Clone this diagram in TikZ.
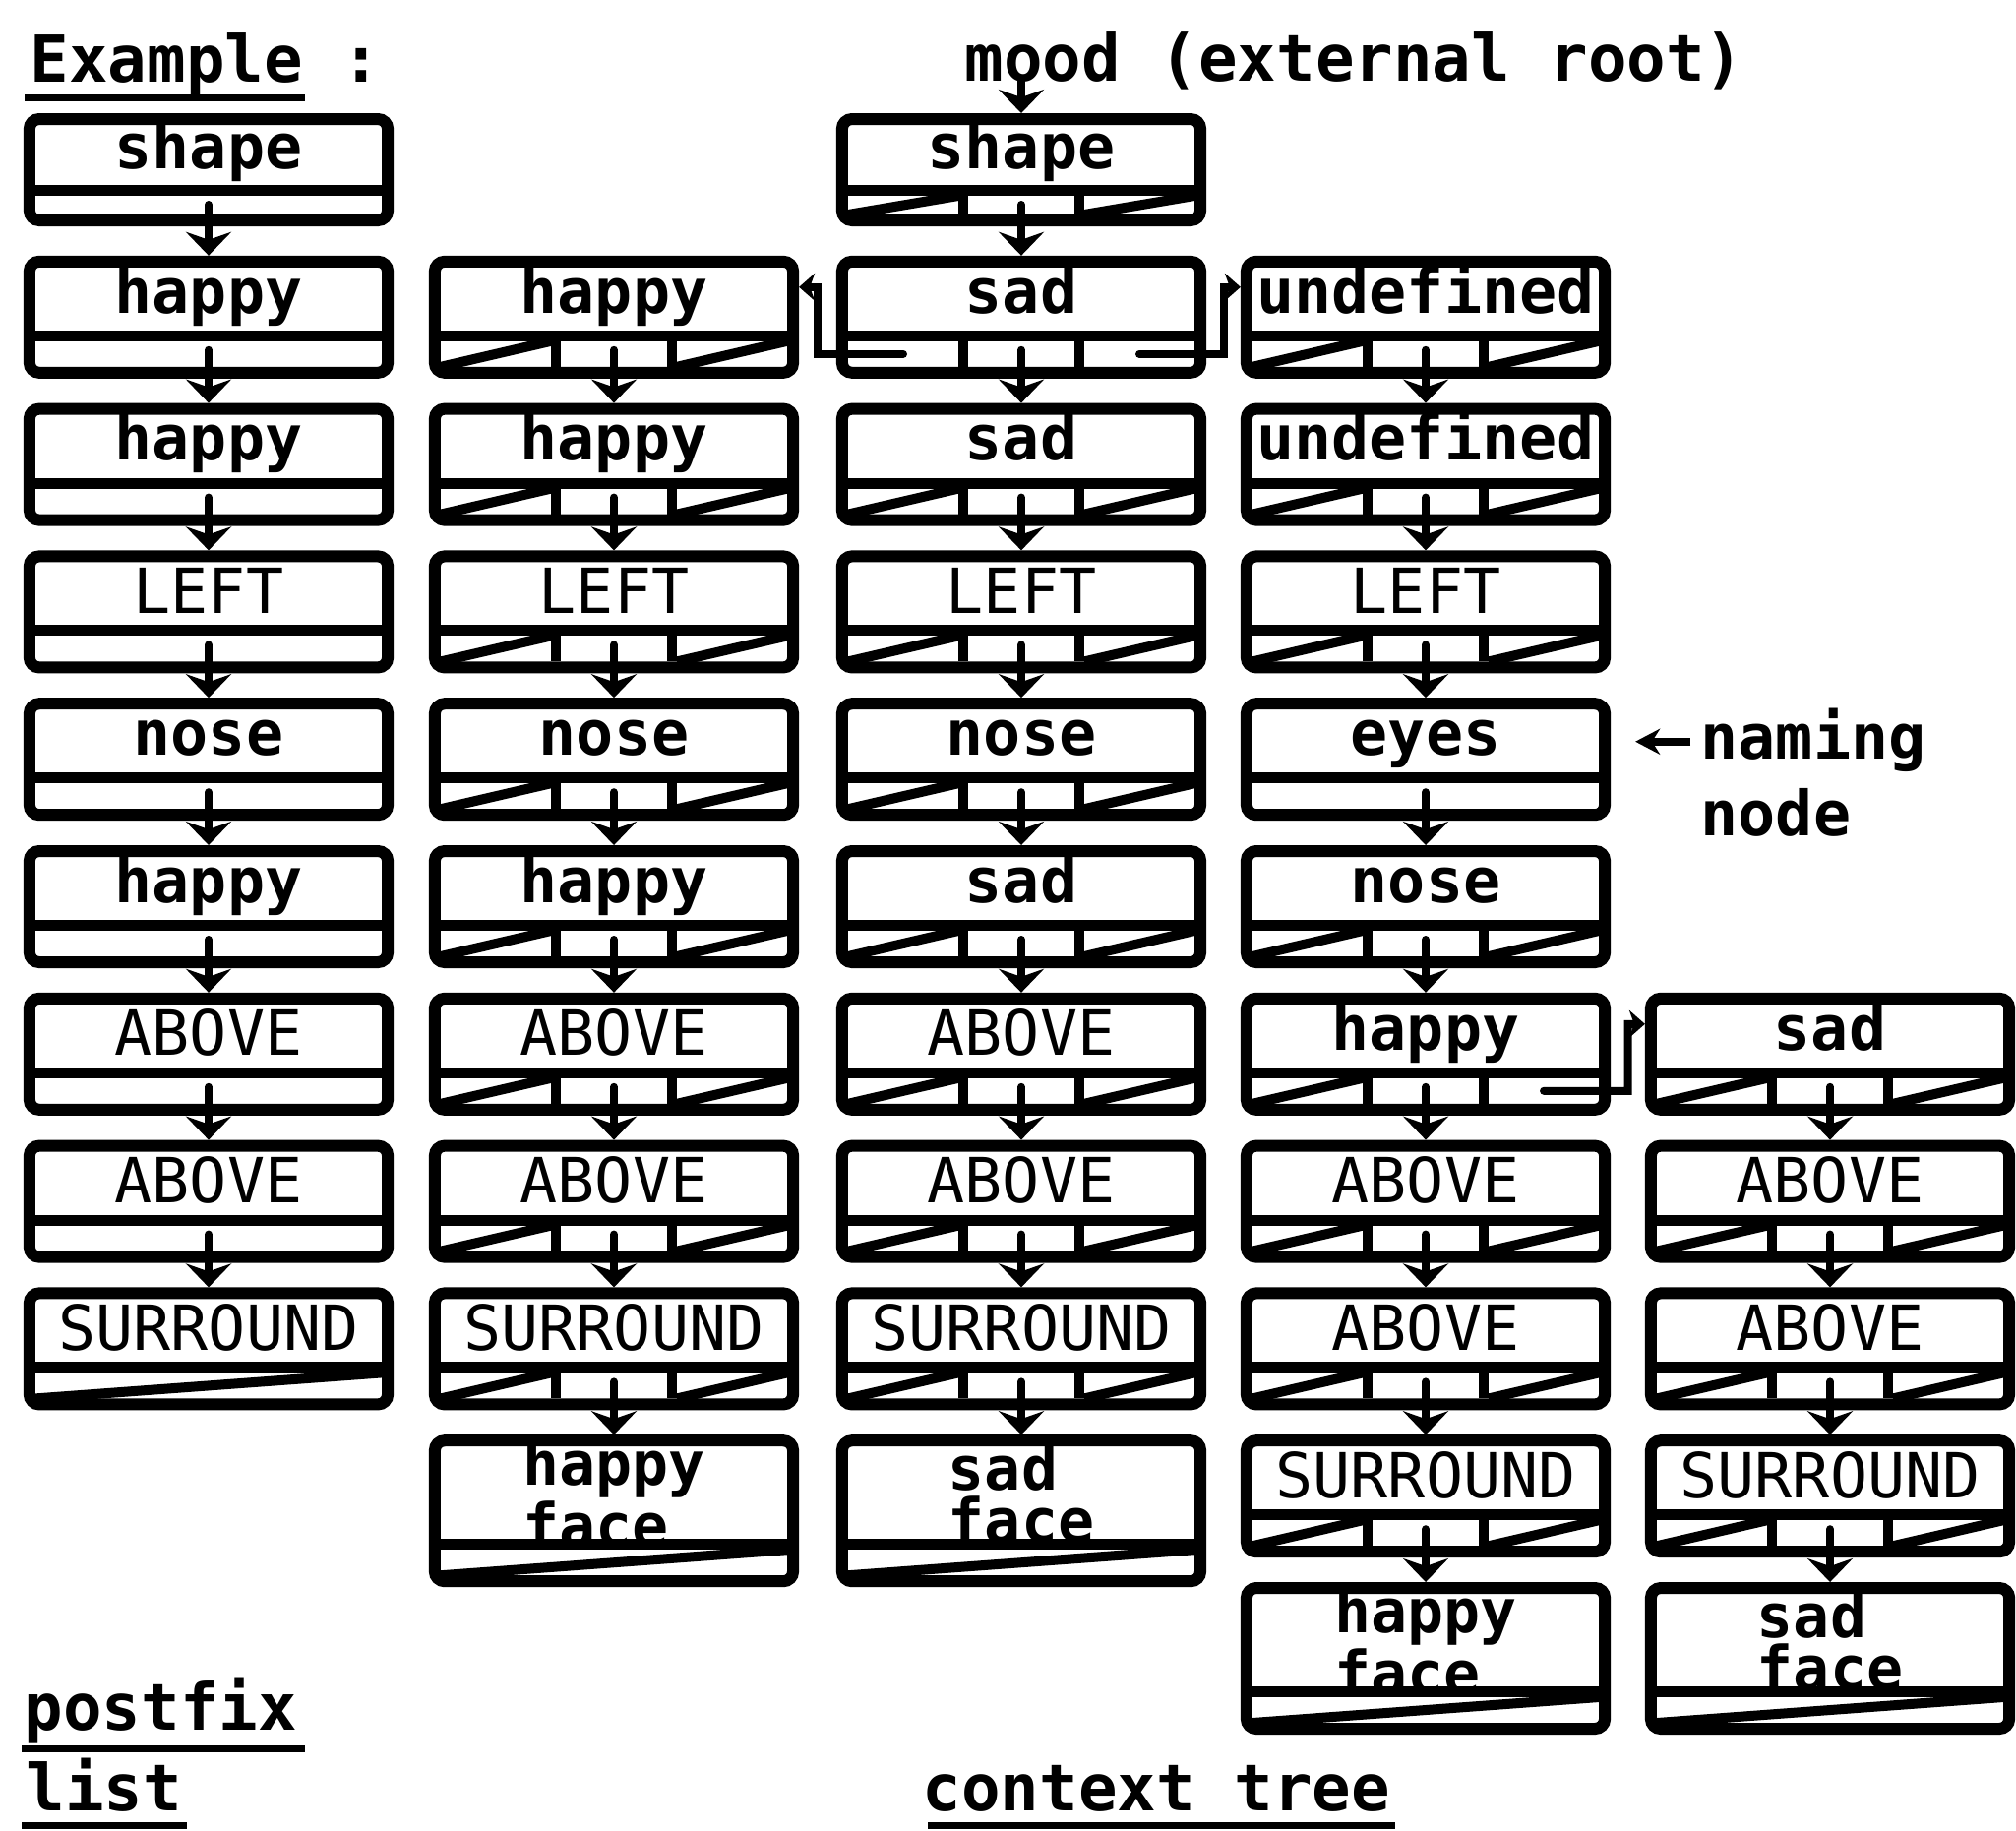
\documentclass[tikz,border=0pt]{standalone}
\usepackage{fontspec}
\usepackage{tikz}
\usetikzlibrary{arrows.meta,calc,positioning}
\newfontfamily\dotfont{DejaVu Sans Mono}

\tikzset{
  rec/.style={draw,line width=0.12cm,rounded corners=0.1cm,inner sep=0pt,minimum width=3.64cm},
  bar/.style={line width=0.11cm},
  cell/.style={line width=0.1cm},
  nil/.style={line width=0.1cm},
  ptr/.style={line width=0.08cm,line cap=round,-{Stealth[length=0.24cm,width=0.46cm,inset=0.08cm]}},
  link/.style={line width=0.08cm,line cap=round,-{Stealth[length=0.16cm,width=0.28cm,inset=0.05cm]}},
  lw/.style={font=\dotfont\bfseries\fontsize{18}{12}\selectfont,text height=0.345cm,text depth=0pt,inner sep=0pt},
  uw/.style={font=\dotfont\fontsize{18}{12}\selectfont,text height=0.46cm,text depth=0pt,inner sep=0pt},
  fw/.style={font=\dotfont\bfseries\fontsize{17.5}{15}\selectfont,align=left,inner sep=0pt},
  labstyle/.style={#1},
  ttl/.style={font=\dotfont\bfseries\fontsize{18.7}{24}\selectfont,inner sep=0pt,anchor=base west},
  uline/.style={line width=0.07cm},
}

% record box = frame, text field, pointer strip
\def\hgtL{125}\def\hgtE{125}\def\hgtF{155}\def\hgtT{125}\def\hgtA{125}\def\hgtR{125}
\newcommand{\cellbars}{\draw[cell] (\rL+129,\rS) -- (\rL+129,\rB) (\rR-129,\rS) -- (\rR-129,\rB);}
\newcommand{\nilleft}{\draw[nil] (\rL+12,\rB) -- (\rL+124,\rS);}
\newcommand{\nilright}{\draw[nil] (\rR-124,\rB) -- (\rR-12,\rS);}
\newcommand{\stripL}[2]{\coordinate (#1-p) at (#2,\rS+9);}
\newcommand{\stripE}[2]{\draw[nil] (\rL+12,\rB) -- (\rR-12,\rS);}
\newcommand{\stripF}[2]{\draw[nil] (\rL+12,\rB) -- (\rR-12,\rS);}
\newcommand{\stripT}[2]{\cellbars\nilleft\nilright\coordinate (#1-p) at (#2,\rS+9);}
\newcommand{\stripA}[2]{\cellbars\coordinate (#1-l) at (\rL+68,\rS+13);
  \coordinate (#1-r) at (\rR-68,\rS+13);\coordinate (#1-p) at (#2,\rS+9);}
\newcommand{\stripR}[2]{\cellbars\nilleft\coordinate (#1-r) at (\rR-68,\rS+13);
  \coordinate (#1-p) at (#2,\rS+9);}
% #1 name, #2 x centre, #3 row, #4 strip kind, #5 label style, #6 label
\newcommand{\mkrec}[6]{%
  \edef\rK{\csname hgt#4\endcsname}%
  \pgfmathsetmacro\rT{#3==0 ? 115 : 110+149.8*#3}%
  \pgfmathsetmacro\rH{#3==0 ? 115 : \rK}%
  \pgfmathsetmacro\rL{#2-188}%
  \pgfmathsetmacro\rR{#2+188}%
  \pgfmathsetmacro\rB{\rT+\rH-12}%
  \pgfmathsetmacro\rS{\rB-(#3==0 ? 19 : 26)}%
  \pgfmathsetmacro\rY{(\rT+\rS+1)/2-3+(\rH>150 ? 4 : 0)}%
  \node[rec,minimum height={(\rH-12)*0.01cm}] (#1) at (#2,\rT+\rH/2) {};
  \draw[bar] (\rL,\rS-5.5) -- (\rR,\rS-5.5);
  \csname strip#4\endcsname{#1}{#2}%
  \node[labstyle/.expanded=#5] (#1-t) at (#2,\rY) {#6};
}

\begin{document}
\begin{tikzpicture}[x=0.01cm,y=-0.01cm]
  \useasboundingbox (0,0) rectangle (2049,1860);
  % postfix list
  \foreach \rw/\kd/\st/\tx in {0/L/lw/shape,1/L/lw/happy,2/L/lw/happy,3/L/uw/LEFT,4/L/lw/nose,
      5/L/lw/happy,6/L/uw/ABOVE,7/L/uw/ABOVE,8/E/uw/SURROUND}
    {\mkrec{a\rw}{212}{\rw}{\kd}{\st}{\tx}}
  % context tree
  \foreach \rw/\kd/\st/\tx in {1/T/lw/happy,2/T/lw/happy,3/T/uw/LEFT,4/T/lw/nose,5/T/lw/happy,
      6/T/uw/ABOVE,7/T/uw/ABOVE,8/T/uw/SURROUND,9/F/fw/{happy\\face}}
    {\mkrec{b\rw}{624}{\rw}{\kd}{\st}{\tx}}
  \foreach \rw/\kd/\st/\tx in {0/T/lw/shape,1/A/lw/sad,2/T/lw/sad,3/T/uw/LEFT,4/T/lw/nose,5/T/lw/sad,
      6/T/uw/ABOVE,7/T/uw/ABOVE,8/T/uw/SURROUND,9/F/fw/{sad\\face}}
    {\mkrec{c\rw}{1038}{\rw}{\kd}{\st}{\tx}}
  \foreach \rw/\kd/\st/\tx in {1/T/lw/undefined,2/T/lw/undefined,3/T/uw/LEFT,4/L/lw/eyes,5/T/lw/nose,
      6/R/lw/happy,7/T/uw/ABOVE,8/T/uw/ABOVE,9/T/uw/SURROUND,10/F/fw/{happy\\face}}
    {\mkrec{d\rw}{1449}{\rw}{\kd}{\st}{\tx}}
  \foreach \rw/\kd/\st/\tx in {6/T/lw/sad,7/T/uw/ABOVE,8/T/uw/ABOVE,9/T/uw/SURROUND,10/F/fw/{sad\\face}}
    {\mkrec{e\rw}{1860}{\rw}{\kd}{\st}{\tx}}
  % child pointers
  \foreach \c/\f/\l in {a/0/7,b/1/8,c/0/8,d/1/9,e/6/9}
    {\foreach \i in {\f,...,\l}
      {\pgfmathtruncatemacro\j{\i+1}
       \draw[ptr] (\c\i-p) -- (\c\j.north);}}
  % sibling links
  \draw[link] (c1-l) -| ($(b1.north east)!.5!(c1.north west)+(0,32)$) -- ($(b1.north east)+(0,32)$);
  \draw[link] (c1-r) -| ($(c1.north east)!.5!(d1.north west)+(0,32)$) -- ($(d1.north west)+(0,32)$);
  \draw[link] (d6-r) -| ($(d6.north east)!.5!(e6.north west)+(0,32)$) -- ($(e6.north west)+(0,32)$);
  % titles
  \node[ttl] (ex) at (30,83) {Example :};
  \draw[uline] (25,99) -- (310,99);
  \node[ttl] (mood) at (980,82) {mood (external root)};
  \draw[ptr] (c0.north |- mood.base) -- (c0.north);
  \node[lw,anchor=base west] (nm1) at (1728,771) {naming};
  \node[lw,anchor=base west] (nm2) at (1728,849) {node};
  \draw[line width=0.08cm,shorten <=0.1cm,-{Stealth[length=0.25cm,width=0.26cm]}] (nm1.west) -- ($(nm1.west -| d4.east)+(25,0)$);
  \node[ttl] (pf) at (24,1758) {postfix};
  \draw[uline] (22,1777) -- (310,1777);
  \node[ttl] (ls) at (26,1840) {list};
  \draw[uline] (22,1855) -- (190,1855);
  \node[ttl] (ct) at (937,1840) {context tree};
  \draw[uline] (943,1855) -- (1418,1855);
\end{tikzpicture}
\end{document}
